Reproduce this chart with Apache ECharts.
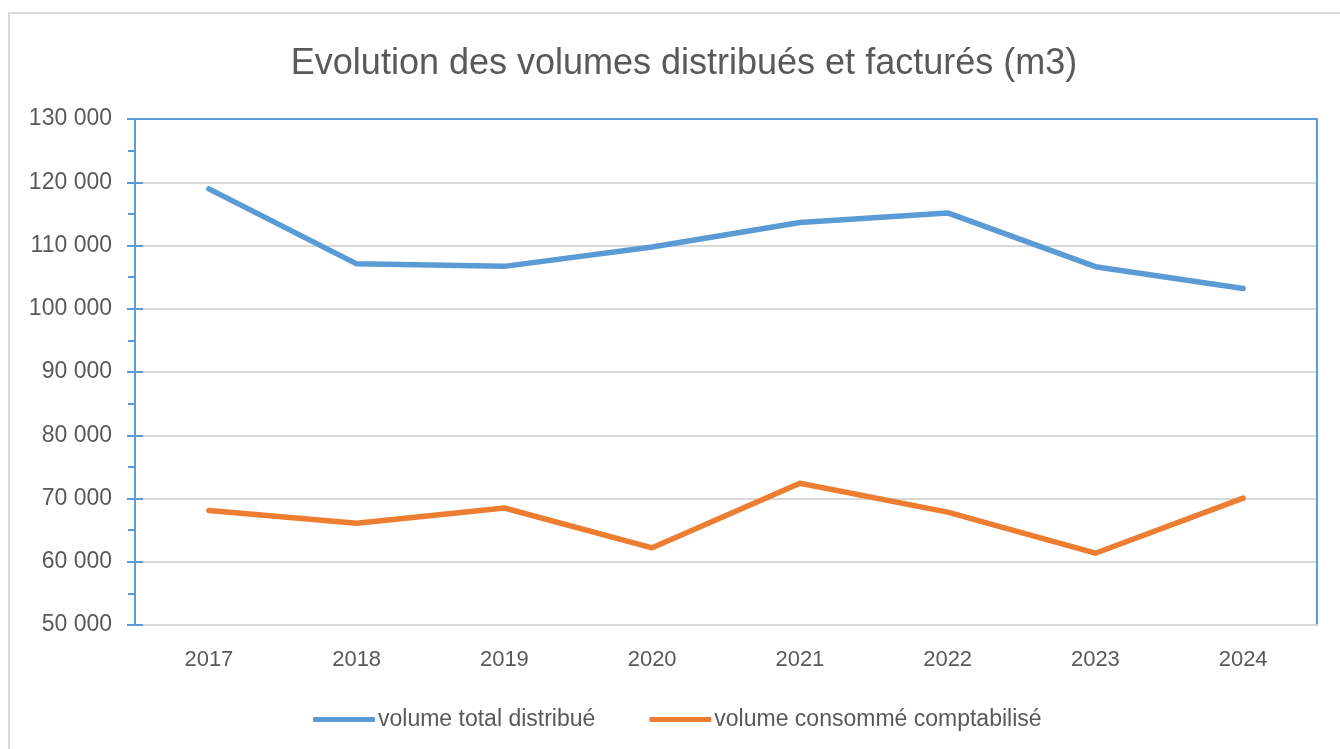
<!DOCTYPE html>
<html>
<head>
<meta charset="utf-8">
<script src="https://cdn.jsdelivr.net/npm/echarts@6/dist/echarts.min.js"></script>
<style>
html, body { margin: 0; padding: 0; background: #fff; }
#main { width: 1340px; height: 749px; }
</style>
</head>
<body>
<div id="main"></div>
<script>
// données du graphique
var annees = ['2017', '2018', '2019', '2020', '2021', '2022', '2023', '2024'];
var volumeDistribue = [118950, 107100, 106700, 109750, 113650, 115150, 106650, 103200];
var volumeConsomme = [68100, 66100, 68500, 62200, 72400, 67850, 61350, 70050];
var nomsSeries = ['volume total distribué', 'volume consommé comptabilisé'];
var titre = 'Evolution des volumes distribués et facturés (m3)';
var yMin = 50000, yMax = 130000, yPas = 10000;

var police = 'Liberation Sans';
var gris = '#595959';
var bleu = '#5B9BD5';
var orange = '#ED7D31';

function formatMilliers(v) {
	return String(v).replace(/\B(?=(\d{3})+(?!\d))/g, ' ');
}

var myChart = echarts.init(document.getElementById('main'));
var option = {
	animation : false,
	backgroundColor : '#fff',
	textStyle : { fontFamily : police },
	title : {
		text : titre,
		left : 679,
		textAlign : 'center',
		top : 41,
		textStyle : {
			fontFamily : police,
			fontSize : 36,
			fontWeight : 'normal',
			color : gris
		}
	},
	legend : {
		data : nomsSeries,
		left : 308,
		top : 703,
		icon : 'roundRect',
		itemWidth : 62,
		itemHeight : 5,
		itemGap : 54,
		textStyle : { fontFamily : police, fontSize : 23, color : gris, padding : [0, 0, 0, -2] }
	},
	// cadre extérieur
	graphic : [ {
		type : 'rect',
		shape : { x : 9, y : 13, width : 1400, height : 800 },
		style : { fill : 'none', stroke : '#d9d9d9', lineWidth : 2 },
		silent : true
	} ],
	grid : {
		left : 135,
		right : 23,
		top : 119,
		bottom : 124
	},
	xAxis : [ {
		type : 'category',
		data : annees,
		boundaryGap : true,
		axisLine : { show : true, lineStyle : { color : '#d9d9d9', width : 2 } },
		axisTick : { show : false },
		axisLabel : { margin : 24, fontFamily : police, fontSize : 22, color : gris }
	}, {
		// bord haut du cadre
		type : 'category',
		position : 'top',
		data : annees,
		axisLine : { show : true, lineStyle : { color : bleu, width : 2 } },
		axisTick : { show : false },
		axisLabel : { show : false },
		splitLine : { show : false }
	} ],
	yAxis : [ {
		type : 'value',
		min : yMin,
		max : yMax,
		interval : yPas,
		axisLine : { show : true, lineStyle : { color : bleu, width : 2 } },
		axisTick : { show : true, length : 8, lineStyle : { color : bleu, width : 2 } },
		minorTick : { show : true, splitNumber : 2, length : 7, lineStyle : { color : bleu, width : 2 } },
		splitLine : { show : true, lineStyle : { color : '#d9d9d9', width : 2 } },
		axisLabel : {
			margin : 23,
			fontFamily : police,
			fontSize : 23,
			color : gris,
			formatter : formatMilliers
		}
	}, {
		// graduations intérieures
		type : 'value',
		position : 'left',
		min : yMin,
		max : yMax,
		interval : yPas,
		axisLine : { show : false },
		axisTick : { show : true, inside : true, length : 8, lineStyle : { color : bleu, width : 2 } },
		axisLabel : { show : false },
		splitLine : { show : false }
	}, {
		// bord droit du cadre
		type : 'value',
		position : 'right',
		min : yMin,
		max : yMax,
		interval : yPas,
		axisLine : { show : true, lineStyle : { color : bleu, width : 2 } },
		axisTick : { show : false },
		axisLabel : { show : false },
		splitLine : { show : false }
	} ],
	series : [ {
		name : nomsSeries[0],
		type : 'line',
		data : volumeDistribue,
		symbol : 'none',
		itemStyle : { color : bleu },
		lineStyle : { color : bleu, width : 5.5, cap : 'round', join : 'round' }
	}, {
		name : nomsSeries[1],
		type : 'line',
		data : volumeConsomme,
		symbol : 'none',
		itemStyle : { color : orange },
		lineStyle : { color : orange, width : 5.5, cap : 'round', join : 'round' }
	} ]
};
myChart.setOption(option);
</script>
</body>
</html>
